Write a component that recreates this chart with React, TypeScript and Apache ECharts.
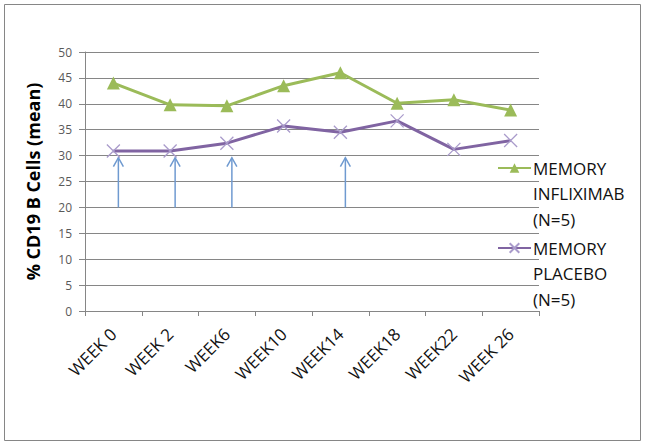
import React, { useEffect, useRef } from "react";
import * as echarts from "echarts";

const categories = ["WEEK 0", "WEEK 2", "WEEK6", "WEEK10", "WEEK14", "WEEK18", "WEEK22", "WEEK 26"];
const infliximab = [44.0, 39.8, 39.6, 43.5, 46.0, 40.1, 40.8, 38.8];
const placebo = [30.9, 30.9, 32.4, 35.7, 34.5, 36.7, 31.2, 32.9];
const arrowWeeks = ["WEEK 0", "WEEK 2", "WEEK6", "WEEK14"];
const arrowFrom = 20;
const arrowTo = 29.6;
const seriesNames = ["MEMORY INFLIXIMAB (N=5)", "MEMORY PLACEBO (N=5)"];
const yTicks = { min: 0, max: 50, interval: 5 };

const GREEN = "#9BBB59";
const PURPLE = "#8064A2";
const XMARK = "#A99BCB";
const ARROW = "#6F9AD0";
const FONT = "'Open Sans', 'Liberation Sans', sans-serif";
const LH = 25.5;

export default function App() {
  const ref = useRef<HTMLDivElement>(null);
  useEffect(() => {
    if (!ref.current) return;
    const chart = echarts.init(ref.current, undefined, { renderer: "svg" });
    const legendBase = (name: string, iconCenterY: number) => ({
      data: [name],
      orient: "vertical",
      left: 497,
      top: iconCenterY - (5 * LH) / 2,
      itemWidth: 33,
      itemHeight: 12,
      itemGap: 0,
      padding: 0,
      formatter: (n: string) => "\n\n" + n.split(" ").join("\n"),
      textStyle: { fontSize: 17, lineHeight: LH, color: "#111", fontFamily: FONT, padding: [0, 0, 0, -3] },
    });
    chart.setOption({
      animation: false,
      backgroundColor: "#fff",
      grid: { left: 85, right: 106, top: 52, bottom: 134 },
      legend: [legendBase(seriesNames[0], 168), legendBase(seriesNames[1], 248)],
      xAxis: {
        type: "category",
        data: categories,
        boundaryGap: true,
        axisLine: { lineStyle: { color: "#868686", width: 1 } },
        axisTick: { show: true, alignWithLabel: false, length: 5, lineStyle: { color: "#868686" } },
        axisLabel: { rotate: 45, fontSize: 17, color: "#111", fontFamily: FONT, margin: 20, interval: 0 },
      },
      yAxis: {
        type: "value",
        min: yTicks.min,
        max: yTicks.max,
        interval: yTicks.interval,
        name: "% CD19 B Cells (mean)",
        nameLocation: "middle",
        nameGap: 43,
        nameRotate: 90,
        nameTextStyle: { fontSize: 18, fontWeight: "bold", color: "#000", fontFamily: FONT },
        axisLine: { show: true, lineStyle: { color: "#868686", width: 1 } },
        axisTick: { show: true, length: 6, lineStyle: { color: "#868686" } },
        axisLabel: { fontSize: 12, color: "#595959", fontFamily: FONT, margin: 13 },
        splitLine: { show: true, lineStyle: { color: "#868686", width: 1 } },
      },
      series: [
        {
          name: seriesNames[0],
          type: "line",
          data: infliximab,
          symbol: "triangle",
          symbolSize: 13,
          lineStyle: { color: GREEN, width: 3 },
          itemStyle: { color: GREEN },
          z: 3,
        },
        {
          name: seriesNames[1],
          type: "line",
          data: placebo,
          symbol: "path://M0,0L10,10M10,0L0,10",
          symbolSize: 13,
          lineStyle: { color: PURPLE, width: 3 },
          itemStyle: { color: "none", borderColor: XMARK, borderWidth: 1.3 },
          z: 3,
        },
        {
          name: "arrows",
          type: "custom",
          data: arrowWeeks.map((w) => [w, arrowFrom, arrowTo]),
          encode: { x: 0, y: [1, 2] },
          z: 2,
          renderItem: (params: any, api: any) => {
            const idx = api.value(0);
            const p0 = api.coord([idx, api.value(1)]);
            const p1 = api.coord([idx, api.value(2)]);
            const dx = 5;
            const x = p0[0] + dx;
            return {
              type: "group",
              children: [
                { type: "line", shape: { x1: x, y1: p0[1], x2: x, y2: p1[1] }, style: { stroke: ARROW, lineWidth: 1.5 } },
                {
                  type: "polyline",
                  shape: { points: [[x - 5, p1[1] + 9], [x, p1[1]], [x + 5, p1[1] + 9]] },
                  style: { stroke: ARROW, lineWidth: 1.5, fill: "none" },
                },
              ],
            };
          },
        },
      ],
      graphic: [
        {
          type: "rect",
          shape: { x: 4.5, y: 4.5, width: 636, height: 436 },
          style: { fill: "none", stroke: "#868686", lineWidth: 1 },
          silent: true,
        },
      ],
    });
    return () => chart.dispose();
  }, []);
  return <div ref={ref} style={{ position: "fixed", left: 0, top: 0, width: 645, height: 445 }} />;
}
